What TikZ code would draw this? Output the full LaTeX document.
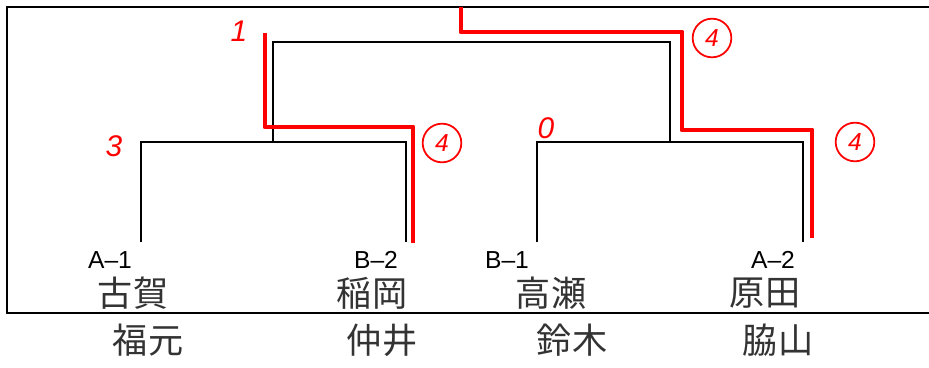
\documentclass[tikz,border=0pt]{standalone}
\usepackage{fontspec}
\setmainfont{Liberation Sans}
\newfontfamily\jpfont{Noto Sans CJK JP}
\usetikzlibrary{positioning}

\tikzset{
  team/.style={font=\fontsize{14}{14}\selectfont, inner sep=0pt},
  player/.style={font=\jpfont\fontsize{20}{20}\selectfont, inner sep=0pt, color=black!80},
  pts/.style={color=red, font=\fontsize{17}{17}\selectfont\itshape, inner sep=0pt},
  winpts/.style={pts, draw=red, circle, line width=1pt, inner sep=1pt, minimum size=22pt, font=\fontsize{14}{14}\selectfont\itshape},
  bracket/.style={line width=1.4pt},
  winner/.style={red, line width=2.8pt, line join=round},
}

\begin{document}
\begin{tikzpicture}[x=0.02cm,y=-0.02cm]
    \useasboundingbox (0,0) rectangle (929,368);
    % frame (open at the right)
    \draw[line width=1.1pt] (929,7) -- (7,7) -- (7,313) -- (929,313);
    % first round
    \coordinate (a1) at (141,242);
    \coordinate (b2) at (406,242);
    \coordinate (b1) at (537,242);
    \coordinate (a2) at (803,242);
    \draw[bracket] (a1) -- ++(0,-100) -| (b2);
    \draw[bracket] (b1) -- ++(0,-100) -| (a2);
    % final
    \coordinate (s1) at (273,142);
    \coordinate (s2) at (670,142);
    \coordinate (fin) at (471,42);
    \draw[bracket] (s1) |- (fin) -| (s2);
    % winners (red)
    \coordinate (w1) at (413,243);
    \coordinate (w1c) at (265,127);
    \coordinate (w1e) at (265,33);
    \draw[winner] (w1) |- (w1c) -- (w1e);
    \coordinate (w2) at (812,238);
    \coordinate (w2c) at (682,130);
    \coordinate (w2f) at (461,32);
    \coordinate (w2e) at (461,7);
    \draw[winner] (w2) |- (w2c) |- (w2f) -- (w2e);
    % teams and players
    \foreach \tname/\tx/\ttext/\pone/\ponex/\ptwo/\ptwox in {ta1/110/A--1/古賀/133/福元/148, tb2/376/B--2/稲岡/372/仲井/382, tb1/507/B--1/高瀬/551/鈴木/572, ta2/773/A--2/原田/765/脇山/778}
    {
      \node[team] (\tname) at (\tx,260) {\ttext};
      \node[player] (\tname-up) at (\ponex,293) {\pone};
      \node[player] (\tname-dn) at (\ptwox,340) {\ptwo};
    }
    % scores
    \node[pts] (sa1) at (114,146) {3};
    \node[winpts] (sb2) at (442,143) {4};
    \node[pts] (sb1) at (546,128) {0};
    \node[winpts] (sa2) at (855,142) {4};
    \node[pts] (sl) at (239,31) {1};
    \node[winpts] (sr) at (712,38) {4};
\end{tikzpicture}
\end{document}
